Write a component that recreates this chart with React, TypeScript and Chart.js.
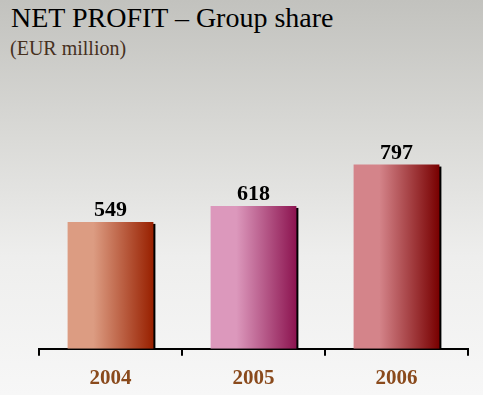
import React, { useEffect, useRef } from "react";
import { Chart, registerables } from "chart.js";

Chart.register(...registerables);

const categories = ["2004", "2005", "2006"];
const profit = [549, 618, 797];
const gradientStops: [string, string][] = [
  ["#dc9c82", "#982000"],
  ["#dc98bc", "#8c1450"],
  ["#d4848a", "#780000"],
];
const BAR_FRACTION = 0.6;

export default function App() {
  const ref = useRef<HTMLCanvasElement | null>(null);

  useEffect(() => {
    if (!ref.current) return;
    const barGeom = (chart: any, i: number) => {
      const xs = chart.scales.x;
      const c = xs.getPixelForValue(i);
      const cw = xs.width / categories.length;
      const half = (cw * BAR_FRACTION) / 2;
      return { left: c - half, right: c + half };
    };
    const shadowAndLabels = {
      id: "shadowAndLabels",
      beforeDatasetsDraw(chart: any) {
        const ctx = chart.ctx;
        const meta = chart.getDatasetMeta(0);
        ctx.save();
        ctx.fillStyle = "#000";
        meta.data.forEach((bar: any) => {
          const right = bar.x + bar.width / 2;
          ctx.fillRect(right - 1, bar.y + 2, 3, bar.base - bar.y - 2);
        });
        ctx.restore();
      },
      afterDatasetsDraw(chart: any) {
        const ctx = chart.ctx;
        const meta = chart.getDatasetMeta(0);
        ctx.save();
        ctx.fillStyle = "#000";
        ctx.font = "bold 22px 'Liberation Serif', 'Times New Roman', serif";
        ctx.textAlign = "center";
        ctx.textBaseline = "alphabetic";
        meta.data.forEach((bar: any, i: number) => {
          ctx.fillText(String(profit[i]), bar.x, bar.y - 6);
        });
        ctx.restore();
      },
    };

    const chart = new Chart(ref.current, {
      type: "bar",
      data: {
        labels: categories,
        datasets: [
          {
            data: profit,
            barPercentage: 1,
            categoryPercentage: BAR_FRACTION,
            borderWidth: 0,
            backgroundColor: (c: any) => {
              const chart = c.chart;
              if (!chart.chartArea || !chart.scales.x) return gradientStops[c.dataIndex % 3][0];
              const g = barGeom(chart, c.dataIndex);
              const grad = chart.ctx.createLinearGradient(g.left, 0, g.right, 0);
              const [a, b] = gradientStops[c.dataIndex % 3];
              grad.addColorStop(0, a);
              grad.addColorStop(0.3, a);
              grad.addColorStop(1, b);
              return grad;
            },
          },
        ],
      },
      options: {
        animation: false,
        responsive: false,
        layout: { padding: { left: 39, right: 15, top: 150, bottom: 0 } },
        plugins: { legend: { display: false }, tooltip: { enabled: false }, title: { display: false } },
        scales: {
          x: {
            grid: { display: true, drawOnChartArea: false, drawTicks: true, tickLength: 7, color: "#000", lineWidth: 2, offset: true },
            border: { display: true, color: "#000", width: 2 },
            ticks: {
              color: "#8a4a1c",
              padding: 10,
              font: { family: "'Liberation Serif', 'Times New Roman', serif", size: 21, weight: "bold" },
            },
          },
          y: { display: false, min: 0, max: 860 },
        },
      },
      plugins: [shadowAndLabels],
    });
    return () => chart.destroy();
  }, []);

  return (
    <div
      style={{
        position: "fixed",
        left: 0,
        top: 0,
        width: 483,
        height: 395,
        overflow: "hidden",
        background: "linear-gradient(to bottom, #c2c2be 0%, #dadad7 35%, #eeeeed 65%, #f7f7f7 100%)",
        fontFamily: "'Liberation Serif', 'Times New Roman', serif",
      }}
    >
      <div style={{ position: "absolute", left: 11, top: 4, fontSize: 28, lineHeight: "28px", color: "#000", whiteSpace: "nowrap" }}>
        NET PROFIT – Group share
      </div>
      <div style={{ position: "absolute", left: 10, top: 38, fontSize: 20, lineHeight: "20px", color: "#46301e", whiteSpace: "nowrap" }}>
        (EUR million)
      </div>
      <canvas ref={ref} width={483} height={401} style={{ position: "absolute", left: 0, top: 0, width: 483, height: 401 }} />
    </div>
  );
}
